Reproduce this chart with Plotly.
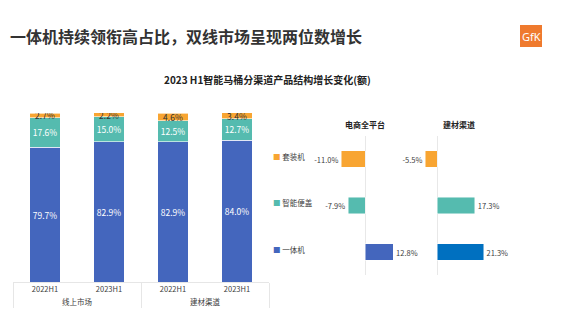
import plotly.graph_objects as go

# ---- data -------------------------------------------------------------
groups = ["线上市场", "线上市场", "建材渠道", "建材渠道"]
periods = ["2022H1", "2023H1", "2022H1", "2023H1"]
share_onepiece = [79.7, 82.9, 82.9, 84.0]   # 一体机
share_cover = [17.6, 15.0, 12.5, 12.7]      # 智能便盖
share_kit = [2.7, 2.2, 4.6, 3.4]            # 套装机

products = ["套装机", "智能便盖", "一体机"]
growth_online = [-11.0, -7.9, 12.8]         # 电商全平台
growth_building = [-5.5, 17.3, 21.3]        # 建材渠道

title_text = "一体机持续领衔高占比，双线市场呈现两位数增长"
subtitle_text = "2023 H1智能马桶分渠道产品结构增长变化(额)"
panel_titles = ["电商全平台", "建材渠道"]

# ---- style ------------------------------------------------------------
W, H = 565, 323
BLUE = "#4466BD"
BLUE_DARK = "#0070C0"
TEAL = "#55BBAF"
ORANGE = "#F8A532"
FONT = "Noto Sans CJK SC, Noto Sans, sans-serif"
TXT = "#404040"


def fx(px):
    return px / W


def fy(py):
    return 1 - py / H


fig = go.Figure()

xcat = [groups, periods]
seg_specs = [
    (share_onepiece, BLUE, "white"),
    (share_cover, TEAL, "white"),
    (share_kit, ORANGE, "#333333"),
]
for vals, col, tcol in seg_specs:
    fig.add_trace(go.Bar(
        x=xcat, y=vals, width=0.47,
        marker=dict(color=col, line=dict(color="white", width=0.6)),
        text=[f"{v:.1f}%" for v in vals], textposition="inside",
        insidetextanchor="middle", constraintext="none", textangle=0,
        textfont=dict(size=8.5, color=tcol, family=FONT),
        xaxis="x", yaxis="y", hoverinfo="skip",
    ))

panel_colors = [
    [ORANGE, TEAL, BLUE],
    [ORANGE, TEAL, BLUE_DARK],
]
for i, (vals, cols) in enumerate(zip([growth_online, growth_building], panel_colors)):
    ax = str(i + 2)
    fig.add_trace(go.Bar(
        y=products, x=vals, orientation="h", width=0.36,
        marker=dict(color=cols, line=dict(color="rgba(255,255,255,0.6)", width=0.8)),
        text=[f"{v:.1f}%" for v in vals], textposition="outside",
        constraintext="none", cliponaxis=False, textangle=0,
        textfont=dict(size=7.5, color=TXT, family=FONT),
        xaxis="x" + ax, yaxis="y" + ax, hoverinfo="skip",
    ))

hidden = dict(showgrid=False, showticklabels=False, ticks="", showline=False)
ydom = [fy(275.25), fy(135.75)]

fig.update_layout(
    width=W, height=H, margin=dict(l=0, r=0, t=0, b=0),
    paper_bgcolor="white", plot_bgcolor="white",
    showlegend=False, barmode="stack",
    font=dict(family=FONT, color=TXT),
    xaxis=dict(domain=[fx(13), fx(269)], type="multicategory",
               showgrid=False, zeroline=False, ticks="",
               showline=True, linecolor="#E6E6E6", linewidth=1,
               showdividers=True, dividercolor="#E6E6E6", dividerwidth=1,
               tickfont=dict(size=7.5, color=TXT, family=FONT)),
    yaxis=dict(domain=[fy(282), fy(113)], range=[0, 100], zeroline=False, **hidden),
    xaxis2=dict(domain=[fx(313.2), fx(415.2)], range=[-24, 23], anchor="y2",
                zeroline=True, zerolinecolor="#E8E8E8", zerolinewidth=1, **hidden),
    yaxis2=dict(domain=ydom, anchor="x2", categoryorder="array",
                categoryarray=products, autorange="reversed", zeroline=False, **hidden),
    xaxis3=dict(domain=[fx(417.8), fx(502.4)], range=[-9, 30], anchor="y3",
                zeroline=True, zerolinecolor="#E8E8E8", zerolinewidth=1, **hidden),
    yaxis3=dict(domain=ydom, anchor="x3", categoryorder="array",
                categoryarray=products, autorange="reversed", zeroline=False, **hidden),
)

annotations = [
    dict(text=f"<b>{title_text}</b>", x=fx(8), y=fy(36), xref="paper", yref="paper",
         xanchor="left", yanchor="middle", showarrow=False,
         font=dict(size=16, color="#333333", family=FONT)),
    dict(text=f"<b>{subtitle_text}</b>", x=fx(267), y=fy(80), xref="paper", yref="paper",
         xanchor="center", yanchor="middle", showarrow=False,
         font=dict(size=10, color="#222222", family=FONT)),
    dict(text="GfK", x=fx(531), y=fy(36.5), xref="paper", yref="paper",
         xanchor="center", yanchor="middle", showarrow=False,
         font=dict(size=11, color="white", family="Noto Sans, sans-serif")),
]
for name, cx in zip(panel_titles, [365, 459]):
    annotations.append(dict(text=f"<b>{name}</b>", x=fx(cx), y=fy(124),
                            xref="paper", yref="paper", xanchor="center",
                            yanchor="middle", showarrow=False,
                            font=dict(size=8, color="#222222", family=FONT)))
legend_colors = [ORANGE, TEAL, BLUE]
for name, col in zip(products, legend_colors):
    annotations.append(dict(
        text=f"<span style='color:{col}'>■</span> {name}",
        x=fx(271), y=name, xref="paper", yref="y2", yshift=3,
        xanchor="left", yanchor="middle", showarrow=False,
        font=dict(size=7.5, color=TXT, family=FONT)))
fig.update_layout(annotations=annotations)

fig.add_shape(type="rect", xref="paper", yref="paper",
              x0=fx(520), x1=fx(542), y0=fy(47), y1=fy(25),
              fillcolor="#EF7A2E", line=dict(width=0))

fig.write_html("out.html")
